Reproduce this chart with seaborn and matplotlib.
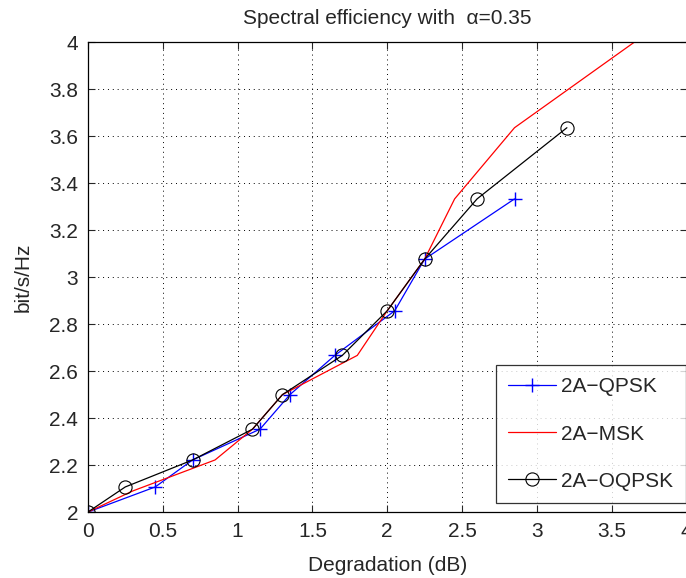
import numpy as np
import pandas as pd
import matplotlib
matplotlib.use("Agg")
import matplotlib.pyplot as plt
import seaborn as sns

# values
qpsk_x = [0, 0.45, 0.7, 1.15, 1.35, 1.65, 2.05, 2.25, 2.85]
qpsk_y = [2.0, 2.107, 2.222, 2.353, 2.5, 2.667, 2.857, 3.077, 3.333]

msk_x = [0, 0.3, 0.85, 1.1, 1.3, 1.8, 2.0, 2.25, 2.45, 2.85, 3.65]
msk_y = [2.0, 2.09, 2.222, 2.353, 2.5, 2.667, 2.857, 3.077, 3.333, 3.636, 4.0]

oqpsk_x = [0, 0.25, 0.7, 1.1, 1.3, 1.7, 2.0, 2.25, 2.6, 3.2]
oqpsk_y = [2.0, 2.107, 2.222, 2.353, 2.5, 2.667, 2.857, 3.077, 3.333, 3.636]

sns.set_style("white")
plt.rcParams['font.family'] = ['Liberation Sans', 'DejaVu Sans']

fig = plt.figure(figsize=(6.86, 5.78), dpi=100)
ax = fig.add_axes([0.128, 0.114, 0.873, 0.813])

sns.lineplot(x=qpsk_x, y=qpsk_y, ax=ax, color='blue', marker='+', markersize=10,
             markeredgecolor='blue', markeredgewidth=1.0, linewidth=0.9, sort=False,
             label='2A\u2212QPSK')
sns.lineplot(x=msk_x, y=msk_y, ax=ax, color='red', linewidth=0.9, sort=False,
             label='2A\u2212MSK')
sns.lineplot(x=oqpsk_x, y=oqpsk_y, ax=ax, color='black', marker='o', markersize=9.5,
             markerfacecolor='none', markeredgecolor='black', markeredgewidth=0.8,
             linewidth=0.9, sort=False, label='2A\u2212OQPSK')

ax.set_xlim(0, 4)
ax.set_ylim(2, 4)
ax.set_xticks(np.arange(0, 4.01, 0.5))
ax.set_yticks(np.arange(2, 4.01, 0.2))
ax.set_xticklabels(['0', '0.5', '1', '1.5', '2', '2.5', '3', '3.5', '4'])
ax.set_yticklabels(['2', '2.2', '2.4', '2.6', '2.8', '3', '3.2', '3.4', '3.6', '3.8', '4'])
ax.tick_params(direction='in', length=5, width=0.8, labelsize=15, top=True, right=True,
               bottom=True, left=True, pad=7)
ax.grid(True, color='black', linestyle=(0, (1, 4)), linewidth=0.7)
for s in ax.spines.values():
    s.set_color('black')
    s.set_linewidth(0.9)

ax.set_title('Spectral efficiency with  \u03b1=0.35', fontsize=15, pad=13)
ax.set_xlabel('Degradation (dB)', fontsize=15, labelpad=11)
ax.set_ylabel('bit/s/Hz', fontsize=15, labelpad=12)

leg = ax.legend(loc='lower right', bbox_to_anchor=(0.9985, 0.019), fontsize=15,
                frameon=True, fancybox=False, edgecolor='black', handlelength=2.3,
                labelspacing=1.35, borderaxespad=0.0, borderpad=0.6, handletextpad=0.25)
leg.get_frame().set_linewidth(0.9)

fig.savefig('out.png', dpi=100)
